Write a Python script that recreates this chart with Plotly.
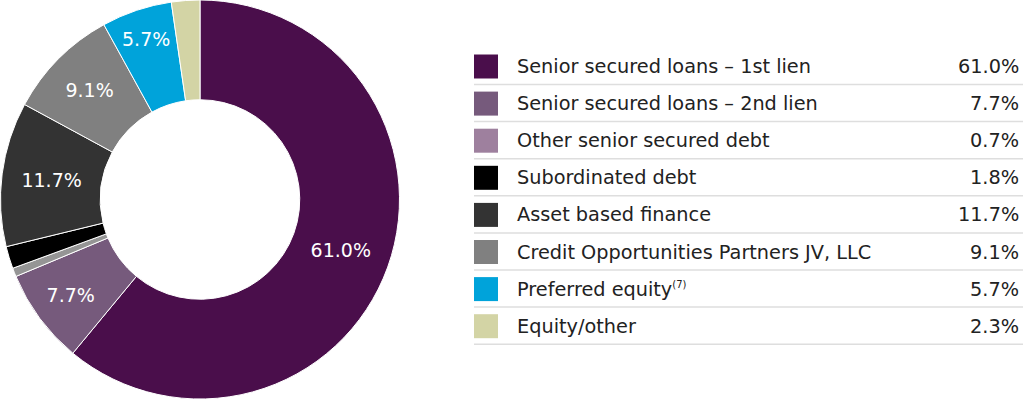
import plotly.graph_objects as go

categories = [
    "Senior secured loans – 1st lien",
    "Senior secured loans – 2nd lien",
    "Other senior secured debt",
    "Subordinated debt",
    "Asset based finance",
    "Credit Opportunities Partners JV, LLC",
    "Preferred equity<sup><span style='font-size:10px'>(7)</span></sup>",
    "Equity/other",
]
values = [61.0, 7.7, 0.7, 1.8, 11.7, 9.1, 5.7, 2.3]
value_labels = ["61.0%", "7.7%", "0.7%", "1.8%", "11.7%", "9.1%", "5.7%", "2.3%"]
legend_colors = ["#4a0e4b", "#765a7c", "#9e809e", "#000000", "#333333", "#808080", "#00a3da", "#d3d4a5"]
slice_colors = ["#4a0e4b", "#765a7c", "#959595", "#000000", "#333333", "#808080", "#00a3da", "#d3d4a5"]
show_in_slice = [True, True, False, False, True, True, True, False]

W, H = 1023, 399
FONT = "DejaVu Sans"

fig = go.Figure()
fig.add_trace(go.Pie(
    values=values,
    labels=[c.split("<sup>")[0] for c in categories],
    text=[lab if s else "" for lab, s in zip(value_labels, show_in_slice)],
    textinfo="text",
    textposition="inside",
    insidetextorientation="horizontal",
    textfont=dict(family=FONT, size=19, color="white"),
    hole=0.5,
    sort=False,
    direction="clockwise",
    rotation=0,
    marker=dict(colors=slice_colors, line=dict(color="white", width=1)),
    domain=dict(x=[0, 400 / W], y=[0, 1]),
    showlegend=False,
    hoverinfo="label+percent",
))

# invisible pixel axes for the legend table
fig.add_trace(go.Scatter(x=[0, W], y=[0, H], mode="markers", marker=dict(opacity=0), hoverinfo="skip", showlegend=False))

row0 = 66.5
step = 37.1
x_sq0, x_sq1 = 474, 498
x_text = 515
x_val = 1021
for i, (cat, lab, col) in enumerate(zip(categories, value_labels, legend_colors)):
    yc = row0 + i * step
    fig.add_shape(type="rect", xref="x", yref="y", x0=x_sq0, x1=x_sq1, y0=yc - 12, y1=yc + 12,
                  fillcolor=col, line=dict(width=0), layer="above")
    fig.add_shape(type="line", xref="x", yref="y", x0=474, x1=W, y0=yc + 18, y1=yc + 18,
                  line=dict(color="#dedede", width=1.5))
    fig.add_annotation(x=x_text, y=yc, xref="x", yref="y", text=cat, showarrow=False,
                       xanchor="left", yanchor="middle", font=dict(family=FONT, size=19.3, color="#222222"))
    fig.add_annotation(x=x_val, y=yc, xref="x", yref="y", text=lab, showarrow=False,
                       xanchor="right", yanchor="middle", font=dict(family=FONT, size=19.3, color="#222222"))

fig.update_layout(
    width=W, height=H,
    margin=dict(l=0, r=0, t=0, b=0),
    paper_bgcolor="white", plot_bgcolor="rgba(0,0,0,0)",
    xaxis=dict(range=[0, W], visible=False, fixedrange=True),
    yaxis=dict(range=[H, 0], visible=False, fixedrange=True),
    uniformtext=dict(minsize=19, mode="show"),
)

fig.write_html("out.html", config={"displayModeBar": False},
               post_script="document.body.style.margin='0';document.body.style.overflow='hidden';")
